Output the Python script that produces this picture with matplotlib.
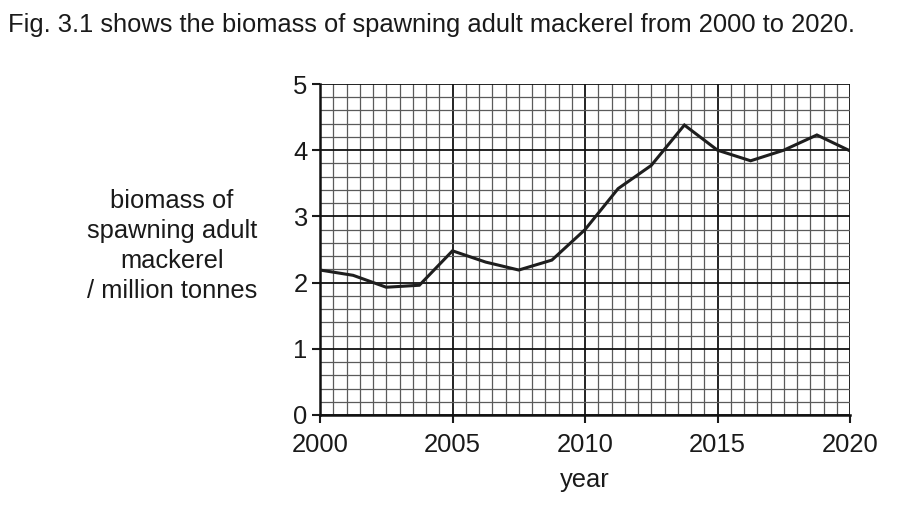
import numpy as np
import matplotlib.pyplot as plt
from matplotlib.ticker import MultipleLocator

plt.rcParams['font.family'] = ['Liberation Sans', 'DejaVu Sans']

# data (points every 1.25 years)
years = [2000, 2001.25, 2002.5, 2003.75, 2005, 2006.25, 2007.5, 2008.75, 2010,
         2011.25, 2012.5, 2013.75, 2015, 2016.25, 2017.5, 2018.75, 2020]
biomass = [2.19, 2.11, 1.93, 1.96, 2.48, 2.31, 2.19, 2.34, 2.80,
           3.42, 3.77, 4.38, 4.00, 3.84, 4.00, 4.23, 3.99]

x_ticks = [2000, 2005, 2010, 2015, 2020]
y_ticks = [0, 1, 2, 3, 4, 5]

titulo = 'Fig. 3.1 shows the biomass of spawning adult mackerel from 2000 to 2020.'
rotulo_y = 'biomass of\nspawning adult\nmackerel\n/ million tonnes'

W, H = 897, 512
fig = plt.figure(figsize=(W / 100, H / 100), dpi=100)
ax = fig.add_axes([320 / W, (H - 415) / H, 530 / W, 331 / H])

fs = 18.4
cor = '#1a1a1a'

# graph paper
ax.xaxis.set_minor_locator(MultipleLocator(0.5))
ax.yaxis.set_minor_locator(MultipleLocator(0.2))
ax.grid(which='minor', color='#5a5a5a', lw=0.9)
ax.grid(which='major', color='#111111', lw=1.3)
ax.set_axisbelow(True)

ax.plot(years, biomass, color='#1e1e1e', lw=2.2, solid_joinstyle='miter', zorder=3)

ax.set_xlim(2000, 2020)
ax.set_ylim(0, 5)
ax.set_xticks(x_ticks)
ax.set_yticks(y_ticks)
ax.tick_params(which='major', direction='out', length=6, width=1.5, labelsize=fs,
               colors=cor)
ax.tick_params(axis='x', pad=7)
ax.tick_params(axis='y', pad=3)
ax.tick_params(which='minor', length=0)

for s in ['top', 'right']:
    ax.spines[s].set_visible(False)
for s in ['left', 'bottom']:
    ax.spines[s].set_linewidth(1.8)
    ax.spines[s].set_color('#111111')

ax.set_xlabel('year', fontsize=fs, color=cor, labelpad=8)
ax.set_ylabel(rotulo_y, fontsize=fs, color=cor, rotation=0, ha='center', va='center',
              linespacing=1.32)
ax.yaxis.set_label_coords((172 - 320) / 530, (415 - 246) / 331)

fig.text(8 / W, 1 - 25 / H, titulo, fontsize=fs, color=cor, va='center', ha='left')

fig.savefig('out.png', dpi=100, facecolor='white')
